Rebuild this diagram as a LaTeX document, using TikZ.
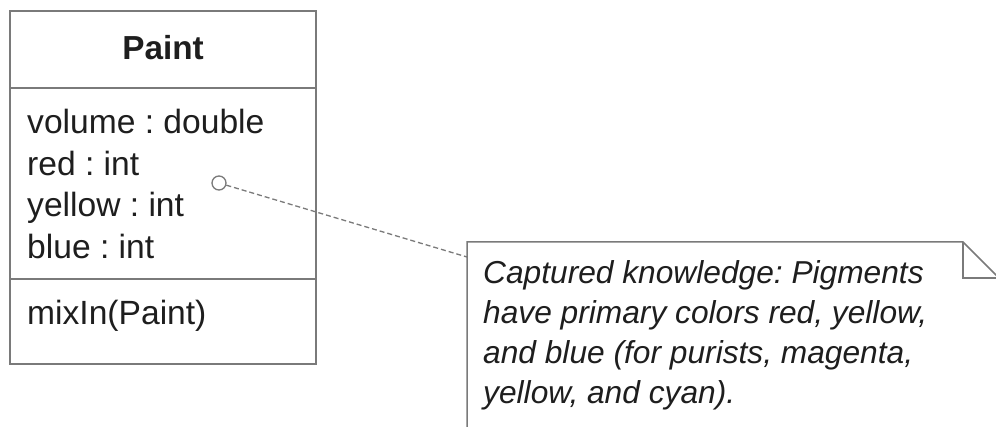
\documentclass[tikz,border=0pt]{standalone}
\usepackage{fontspec}
\setmainfont{Liberation Sans}
\usetikzlibrary{positioning}
\definecolor{edgegray}{HTML}{7A7A7A}
\definecolor{inkblack}{HTML}{1E1E1E}
\frenchspacing

\begin{document}
\begin{tikzpicture}[x=1pt, y=-1pt,
  classtext/.style={text=inkblack, font=\fontsize{33.6}{41.5}\selectfont, inner sep=0pt, align=left},
  notetext/.style={text=inkblack, font=\fontsize{31.7}{40}\selectfont\itshape, inner sep=0pt, align=left}]

% Frame
\useasboundingbox (0,0) rectangle (996,427);
\clip (0,0) rectangle (996,427);
\fill[white] (0,0) rectangle (996,427);

% --- Class box ---
\draw[edgegray, line width=1.5pt] (10,11) rectangle (316,364);
\draw[edgegray, line width=1.5pt] (10,88) -- (316,88);
\draw[edgegray, line width=1.5pt] (10,279) -- (316,279);

\node[classtext, font=\fontsize{33.3}{41.5}\selectfont\bfseries, anchor=base] (title) at (163,60) {Paint};
\node[classtext, anchor=north west] (attrs) at (27,109)
  {volume : double\\red : int\\yellow : int\\blue : int};
\node[classtext, anchor=base west] (ops) at (27,325) {mixIn(Paint)};

% --- Note ---
\draw[edgegray, line width=1.5pt] (467,440) -- (467,242) -- (963,242) -- (999,278) -- (999,440);
\draw[edgegray, line width=1.2pt] (963,242) -- (963,278) -- (999,278);
\node[notetext, anchor=north west] (note) at (483,260)
  {Captured knowledge: Pigments\\have primary colors red, yellow,\\and blue (for purists, magenta,\\yellow, and cyan).};

% --- Anchor line ---
\node[circle, draw=edgegray, line width=1.3pt, minimum size=14pt, inner sep=0pt] (pin) at (219,183) {};
\coordinate (notetip) at (467,257);
\draw[edgegray, line width=1.3pt, dash pattern=on 5pt off 3pt] (pin) -- (notetip);

\end{tikzpicture}
\end{document}
